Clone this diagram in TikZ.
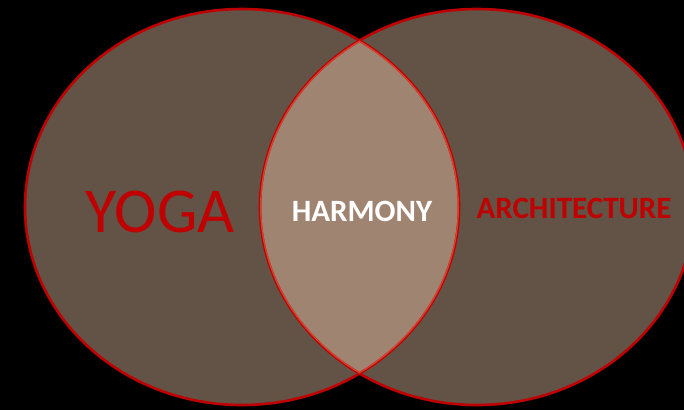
\documentclass[tikz,border=0pt]{standalone}
\usepackage{fontspec}
\setmainfont{Carlito}
\definecolor{brownfill}{HTML}{625346}
\definecolor{lightfill}{HTML}{A08472}
\definecolor{redline}{HTML}{C00000}
\definecolor{lightred}{HTML}{D8402E}
\begin{document}
\begin{tikzpicture}[x=1pt,y=-1pt,
  circ/.style={draw=redline,line width=2.6pt}]
\fill[black] (0,0) rectangle (684,410);
\useasboundingbox (0,0) rectangle (684,410);
\coordinate (lc) at (242,207);
\coordinate (rc) at (477,207);
% fills
\fill[brownfill] (lc) ellipse [x radius=217,y radius=198];
\fill[brownfill] (rc) ellipse [x radius=217,y radius=198];
\begin{scope}
  \clip (lc) ellipse [x radius=217,y radius=198];
  \fill[lightfill] (rc) ellipse [x radius=217,y radius=198];
\end{scope}
% borders
\draw[circ] (lc) ellipse [x radius=217,y radius=198];
\draw[circ] (rc) ellipse [x radius=217,y radius=198];
\begin{scope}
  \clip (lc) ellipse [x radius=217,y radius=198];
  \clip (rc) ellipse [x radius=217,y radius=198];
  \draw[draw=lightred,line width=2.6pt] (lc) ellipse [x radius=217,y radius=198];
  \draw[draw=lightred,line width=2.6pt] (rc) ellipse [x radius=217,y radius=198];
\end{scope}
% texts
\node[text=redline,font=\fontsize{64}{64}\selectfont] (yoga) at (160,211.5) {YOGA};
\node[text=white,font=\bfseries\fontsize{31}{31}\selectfont] (harmony) at (362,211) {HARMONY};
\node[text=redline,font=\bfseries\fontsize{31}{31}\selectfont] (arch) at (574,208) {ARCHITECTURE};
\end{tikzpicture}
\end{document}
